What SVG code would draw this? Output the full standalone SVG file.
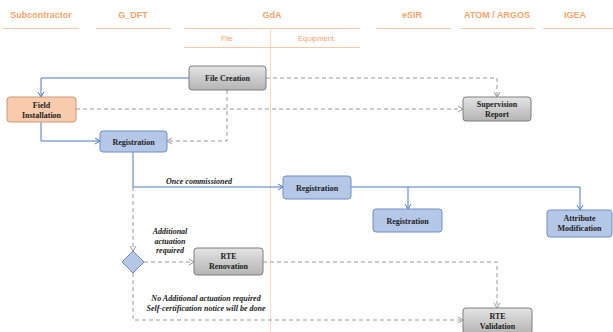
<svg xmlns="http://www.w3.org/2000/svg" width="613" height="332" viewBox="0 0 613 332">
<defs>
<linearGradient id="gray" x1="0" y1="0" x2="0" y2="1"><stop offset="0" stop-color="#e4e4e4"/><stop offset="1" stop-color="#b4b4b4"/></linearGradient>
<marker id="ab" markerWidth="8" markerHeight="8" refX="6" refY="4" orient="auto" markerUnits="userSpaceOnUse"><path d="M1,1 L6,4 L1,7" fill="none" stroke="#4a78cc" stroke-width="1"/></marker>
<marker id="ag" markerWidth="8" markerHeight="8" refX="6" refY="4" orient="auto" markerUnits="userSpaceOnUse"><path d="M1,1 L6,4 L1,7" fill="none" stroke="#999" stroke-width="1"/></marker>
<style>
.hd{font-family:"Liberation Sans",Arial,sans-serif;font-weight:bold;font-size:9px;fill:#f4a46c;text-anchor:middle}
.sub{font-family:"Liberation Sans",Arial,sans-serif;font-size:7.5px;fill:#f4a46c;text-anchor:middle}
.hl{stroke:#f8c9a8;stroke-width:1.2;fill:none}
.nt{font-family:"Liberation Serif","Times New Roman",serif;font-weight:bold;font-size:8px;fill:#222;text-anchor:middle}
.lb{font-family:"Liberation Serif","Times New Roman",serif;font-weight:bold;font-style:italic;font-size:8px;fill:#222;text-anchor:middle}
.g{fill:url(#gray);stroke:#7f7f7f;stroke-width:1}
.b{fill:#b4c7e7;stroke:#6f8fc6;stroke-width:1}
.p{fill:#f8cbad;stroke:#c9997a;stroke-width:1}
.sb{fill:none;stroke:#4a78cc;stroke-width:1}
.dg{fill:none;stroke:#999;stroke-width:1;stroke-dasharray:4,3}
</style>
</defs>
<rect width="613" height="332" fill="#fff"/>
<g id="lanes">
<text class="hd" x="41" y="18">Subcontractor</text>
<text class="hd" x="133" y="18">G_DFT</text>
<text class="hd" x="272" y="18">GdA</text>
<text class="hd" x="412" y="18">eSIR</text>
<text class="hd" x="497" y="18">ATOM / ARGOS</text>
<text class="hd" x="575" y="18">IGEA</text>
<line class="hl" x1="3" y1="28.5" x2="79" y2="28.5"/>
<line class="hl" x1="96" y1="28.5" x2="171" y2="28.5"/>
<line class="hl" x1="184" y1="28.5" x2="360" y2="28.5"/>
<line class="hl" x1="376" y1="28.5" x2="451" y2="28.5"/>
<line class="hl" x1="460" y1="28.5" x2="535" y2="28.5"/>
<line class="hl" x1="543" y1="28.5" x2="613" y2="28.5"/>
<text class="sub" x="227" y="41">File</text>
<text class="sub" x="316" y="41">Equipment</text>
<line class="hl" x1="184" y1="47.5" x2="360" y2="47.5"/>
<line x1="270.5" y1="28" x2="270.5" y2="332" stroke="#fbd9c6" stroke-width="1"/>
</g>
<g id="connectors">
<path class="sb" d="M189,78 H41 V97" marker-end="url(#ab)"/>
<path class="dg" d="M266,78 H497 V97" marker-end="url(#ag)"/>
<path class="dg" d="M227,90 V141 H167" marker-end="url(#ag)"/>
<path class="dg" d="M76,109 H463" marker-end="url(#ag)"/>
<path class="sb" d="M41,122 V141 H100" marker-end="url(#ab)"/>
<path class="sb" d="M133,152 V187 H283" marker-end="url(#ab)"/>
<path class="dg" d="M133,187 V251" marker-end="url(#ag)"/>
<path class="sb" d="M351,187 H580 V210" marker-end="url(#ab)"/>
<path class="sb" d="M408,187 V209" marker-end="url(#ab)"/>
<path class="dg" d="M144,262 H194" marker-end="url(#ag)"/>
<path class="dg" d="M263,262 H497 V308" marker-end="url(#ag)"/>
<path class="dg" d="M133,273 V320 H463" marker-end="url(#ag)"/>
<text class="lb" x="199" y="184">Once commissioned</text>
<text class="lb" x="170" y="234">Additional</text>
<text class="lb" x="170" y="243.5">actuation</text>
<text class="lb" x="170" y="253">required</text>
<text class="lb" x="206" y="301">No Additional actuation required</text>
<text class="lb" x="206" y="310.5">Self-certification notice will be done</text>
</g>
<g id="file-creation"><rect class="g" x="189" y="66" width="77" height="24" rx="3"/><text class="nt" x="227.5" y="81">File Creation</text></g>
<g id="field-installation"><rect class="p" x="7" y="97" width="69" height="25" rx="3"/><text class="nt" x="41.5" y="107.5">Field</text><text class="nt" x="41.5" y="117.5">Installation</text></g>
<g id="registration-1"><rect class="b" x="100" y="131" width="67" height="21" rx="3"/><text class="nt" x="133.5" y="144.5">Registration</text></g>
<g id="supervision-report"><rect class="g" x="463" y="97" width="68" height="24" rx="3"/><text class="nt" x="497" y="107">Supervision</text><text class="nt" x="497" y="117">Report</text></g>
<g id="registration-2"><rect class="b" x="283" y="176" width="68" height="23" rx="3"/><text class="nt" x="317" y="190.5">Registration</text></g>
<g id="registration-3"><rect class="b" x="373" y="209" width="69" height="23" rx="3"/><text class="nt" x="407.5" y="223.5">Registration</text></g>
<g id="attribute-modification"><rect class="b" x="547" y="210" width="65" height="27" rx="3"/><text class="nt" x="579.5" y="221">Attribute</text><text class="nt" x="579.5" y="231">Modification</text></g>
<g id="decision"><path d="M133,251 L144,262 L133,273 L122,262 Z" fill="#b4c7e7" stroke="#7288b0" stroke-width="1"/></g>
<g id="rte-renovation"><rect class="g" x="194" y="248" width="69" height="27" rx="3"/><text class="nt" x="228.5" y="259">RTE</text><text class="nt" x="228.5" y="269">Renovation</text></g>
<g id="rte-validation"><rect class="g" x="463" y="308" width="69" height="26" rx="3"/><text class="nt" x="497.5" y="318.5">RTE</text><text class="nt" x="497.5" y="328.5">Validation</text></g>
</svg>
